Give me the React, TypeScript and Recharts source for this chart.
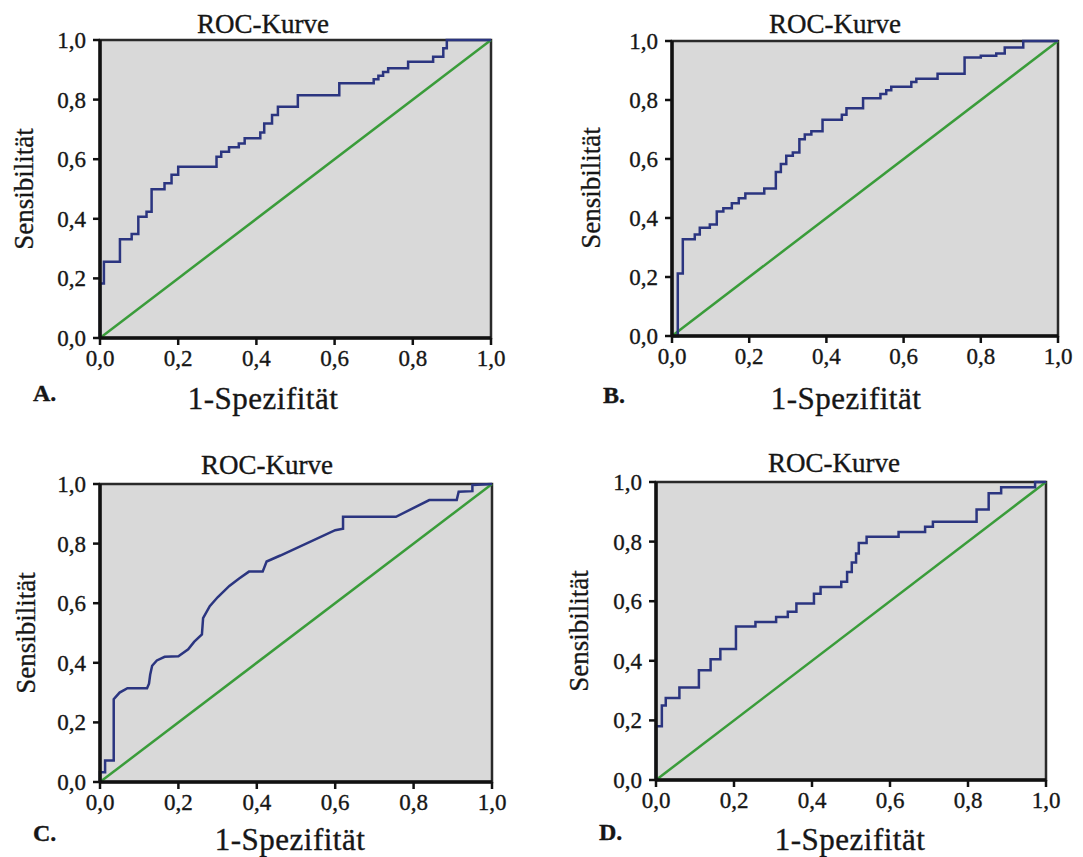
import React from "react";
import { LineChart, Line, XAxis, YAxis, ReferenceArea } from "recharts";

// ROC-Kurven, vier Panels (A-D)
const axisTicks = [0, 0.2, 0.4, 0.6, 0.8, 1];
const panelLetters = ["A.", "B.", "C.", "D."];
const chartTitle = "ROC-Kurve";
const xTitle = "1-Spezifität";
const yTitle = "Sensibilität";

// step corners: x where the curve rises, y after the rise
const fprA = [0, 0, 0.01, 0.051, 0.081, 0.098, 0.119, 0.132, 0.165, 0.183, 0.2, 0.298, 0.31, 0.33, 0.355, 0.37, 0.41, 0.42, 0.44, 0.455, 0.506, 0.612, 0.7, 0.712, 0.724, 0.737, 0.788, 0.852, 0.878, 0.887, 1];
const tprA = [0, 0.183, 0.256, 0.331, 0.349, 0.407, 0.424, 0.499, 0.519, 0.548, 0.575, 0.608, 0.625, 0.64, 0.653, 0.67, 0.69, 0.72, 0.748, 0.776, 0.815, 0.855, 0.868, 0.88, 0.893, 0.905, 0.927, 0.944, 0.972, 1, 1];

const fprB = [0, 0.015, 0.028, 0.059, 0.072, 0.098, 0.116, 0.133, 0.155, 0.173, 0.19, 0.239, 0.269, 0.282, 0.296, 0.313, 0.33, 0.344, 0.361, 0.39, 0.44, 0.452, 0.495, 0.54, 0.555, 0.568, 0.62, 0.633, 0.688, 0.758, 0.8, 0.84, 0.862, 0.91, 1];
const tprB = [0, 0.212, 0.328, 0.344, 0.367, 0.378, 0.422, 0.433, 0.45, 0.467, 0.483, 0.5, 0.556, 0.583, 0.611, 0.622, 0.667, 0.683, 0.694, 0.733, 0.75, 0.772, 0.806, 0.82, 0.833, 0.845, 0.861, 0.872, 0.889, 0.944, 0.95, 0.958, 0.978, 1, 1];

// panel C is drawn point to point (many ties)
const fprC = [0, 0, 0.013, 0.013, 0.035, 0.035, 0.05, 0.07, 0.12, 0.125, 0.128, 0.133, 0.145, 0.165, 0.2, 0.225, 0.24, 0.26, 0.263, 0.28, 0.3, 0.33, 0.355, 0.38, 0.415, 0.425, 0.46, 0.6, 0.62, 0.62, 0.755, 0.84, 0.91, 0.915, 0.95, 0.95, 1];
const tprC = [0, 0.033, 0.033, 0.072, 0.072, 0.278, 0.3, 0.315, 0.315, 0.33, 0.36, 0.39, 0.408, 0.42, 0.422, 0.445, 0.47, 0.495, 0.55, 0.59, 0.62, 0.658, 0.683, 0.706, 0.706, 0.74, 0.76, 0.845, 0.85, 0.89, 0.89, 0.946, 0.946, 0.974, 0.976, 0.997, 1];

const fprD = [0, 0, 0.015, 0.025, 0.06, 0.11, 0.14, 0.165, 0.205, 0.255, 0.308, 0.338, 0.36, 0.405, 0.422, 0.475, 0.49, 0.502, 0.513, 0.52, 0.54, 0.622, 0.69, 0.71, 0.822, 0.853, 0.885, 0.972, 1];
const tprD = [0, 0.18, 0.25, 0.275, 0.31, 0.368, 0.405, 0.44, 0.515, 0.53, 0.547, 0.565, 0.592, 0.625, 0.648, 0.665, 0.698, 0.73, 0.76, 0.795, 0.816, 0.832, 0.85, 0.867, 0.908, 0.962, 0.982, 1, 1];

const diagFpr = [0, 1];
const diagTpr = [0, 1];

const toPoints = (fpr: number[], tpr: number[]) => fpr.map((x, i) => ({ x, y: tpr[i] }));
const fmt = (v: number) => v.toFixed(1).replace(".", ",");

const FONT = "'Liberation Serif', 'Times New Roman', serif";
const INK = "#161616";
const textStyle = { fontFamily: FONT };

const panels = [
  { fpr: fprA, tpr: tprA, curve: "stepAfter", left: 0, top: 0, w: 541, h: 428,
    margin: { top: 40, right: 50, bottom: 60, left: 40 },
    title: [263, 33], xLab: [263, 409], yLab: [33, 189], letter: [33, 401] },
  { fpr: fprB, tpr: tprB, curve: "stepAfter", left: 541, top: 0, w: 541, h: 428,
    margin: { top: 41, right: 24, bottom: 62, left: 71 },
    title: [835, 33], xLab: [846, 409], yLab: [600, 188], letter: [603, 403] },
  { fpr: fprC, tpr: tprC, curve: "linear", left: 0, top: 428, w: 541, h: 429,
    margin: { top: 56, right: 49, bottom: 45, left: 40 },
    title: [267, 474], xLab: [290, 850], yLab: [35, 633], letter: [33, 841] },
  { fpr: fprD, tpr: tprD, curve: "stepAfter", left: 541, top: 428, w: 541, h: 429,
    margin: { top: 54, right: 36, bottom: 47, left: 55 },
    title: [834, 472], xLab: [850, 850], yLab: [588, 631], letter: [599, 840] },
];

const XTick = ({ x, y, payload }: any) => (
  <text x={x} y={y} dy={16} textAnchor="middle" fontSize={23} fill={INK} stroke={INK} strokeWidth={0.35} style={textStyle}>
    {fmt(payload.value)}
  </text>
);

const YTick = ({ x, y, payload }: any) => (
  <text x={x} y={y} dy={8} textAnchor="end" fontSize={23} fill={INK} stroke={INK} strokeWidth={0.35} style={textStyle}>
    {fmt(payload.value)}
  </text>
);

function RocPanel({ p }: { p: any }) {
  const curve = toPoints(p.fpr, p.tpr);
  const diag = toPoints(diagFpr, diagTpr);
  return (
    <div style={{ position: "absolute", left: p.left, top: p.top }}>
      <LineChart width={p.w} height={p.h} margin={p.margin}>
        <ReferenceArea x1={0} x2={1} y1={0} y2={1} fill="#d9d9d9" fillOpacity={1}
          stroke="#2a2a2a" strokeWidth={2.5} ifOverflow="visible" />
        <Line data={diag} dataKey="y" type="linear" stroke="#3a9c3a" strokeWidth={2.5}
          dot={false} isAnimationActive={false} />
        <Line data={curve} dataKey="y" type={p.curve} stroke="#2b3580" strokeWidth={2.5}
          dot={false} isAnimationActive={false} />
        <XAxis dataKey="x" type="number" domain={[0, 1]} ticks={axisTicks} interval={0}
          tick={<XTick />} tickSize={7} tickMargin={5} height={30}
          axisLine={{ stroke: "#111", strokeWidth: 3.5 }} tickLine={{ stroke: "#111", strokeWidth: 2.5 }} />
        <YAxis type="number" domain={[0, 1]} ticks={axisTicks} interval={0}
          tick={<YTick />} tickSize={7} tickMargin={7} width={60}
          axisLine={{ stroke: "#111", strokeWidth: 3.5 }} tickLine={{ stroke: "#111", strokeWidth: 2.5 }} />
      </LineChart>
    </div>
  );
}

export default function App() {
  return (
    <div style={{ position: "absolute", left: 0, top: 0, width: 1083, height: 857, background: "#fff", overflow: "hidden" }}>
      {panels.map((p, i) => (
        <RocPanel key={i} p={p} />
      ))}
      <svg width={1083} height={857} style={{ position: "absolute", left: 0, top: 0, pointerEvents: "none" }}>
        {panels.map((p, i) => (
          <g key={i} fill={INK} stroke={INK} strokeWidth={0.35} style={textStyle}>
            <text x={p.title[0]} y={p.title[1]} textAnchor="middle" fontSize={27}>{chartTitle}</text>
            <text x={p.xLab[0]} y={p.xLab[1]} textAnchor="middle" fontSize={31} letterSpacing={0.5}>{xTitle}</text>
            <text transform={`translate(${p.yLab[0]},${p.yLab[1]}) rotate(-90)`} textAnchor="middle" fontSize={27}>{yTitle}</text>
            <text x={p.letter[0]} y={p.letter[1]} fontSize={24} fontWeight="bold">{panelLetters[i]}</text>
          </g>
        ))}
      </svg>
    </div>
  );
}
